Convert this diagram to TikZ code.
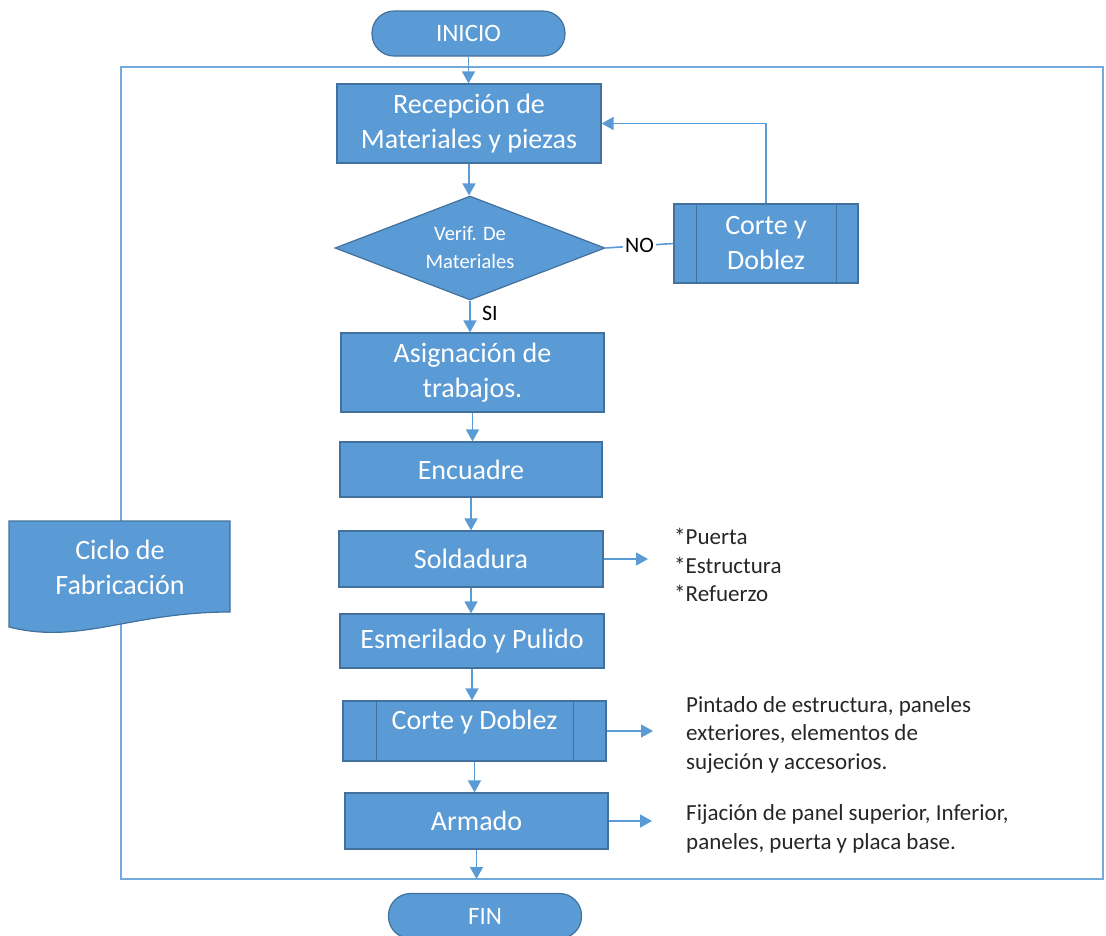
\documentclass[tikz,border=0pt]{standalone}
\usepackage{fontspec}
\setmainfont{Carlito}
\usetikzlibrary{arrows.meta,positioning,shapes.geometric,calc}
\definecolor{azul}{HTML}{5B9BD5}
\definecolor{borde}{HTML}{41719C}

\begin{document}
\begin{tikzpicture}[
    x=1pt, y=-1pt,
    proc/.style={draw=borde, line width=1.2pt, fill=azul, text=white, align=center, inner sep=0pt, font=\fontsize{28}{35}\selectfont},
    terminal/.style={proc, rounded corners=22pt, minimum width=193pt, minimum height=45pt, font=\fontsize{25}{30}\selectfont},
    decision/.style={diamond, draw=borde, line width=1.2pt, fill=azul, text=white, align=center, inner sep=0pt, aspect=2.6, font=\fontsize{20.5}{28}\selectfont},
    nota/.style={anchor=west, align=left, inner sep=0pt, text=black!85, font=\fontsize{23}{28.5}\selectfont},
    conector/.style={-{Triangle[length=12pt,width=13pt]}, line width=1.6pt, azul},
    marco/.style={draw=azul!85, line width=1.5pt}
  ]
    \clip (0,0) rectangle (1106,935);

    % Marco del ciclo
    \draw[marco] (121,67) rectangle (1103,879);
    \filldraw[fill=azul, draw=borde, line width=1.2pt] (9,521) -- (230,521) -- (230,612)
      .. controls (130,612) and (80,645) .. (9,627) -- cycle;
    \node[proc, draw=none, fill=none] (ciclo) at (120,567) {Ciclo de\\Fabricación};

    % Bloques principales
    \node[terminal] (inicio) at (468.5,33.5) {INICIO};
    \node[proc, minimum width=264pt, minimum height=79pt] (recep) at (469,123.5) {Recepción de\\Materiales y piezas};
    \node[decision, minimum width=270pt, minimum height=104pt] (verif) at (470,248) {Verif. De\\Materiales};
    \node[proc, minimum width=184pt, minimum height=79pt] (corte1) at (766,243.5) {Corte y\\Doblez};
    \draw[borde, line width=1.2pt] ([xshift=23pt]corte1.north west) -- ([xshift=23pt]corte1.south west);
    \draw[borde, line width=1.2pt] ([xshift=-22pt]corte1.north east) -- ([xshift=-22pt]corte1.south east);
    \node[proc, minimum width=263pt, minimum height=79pt] (asig) at (472.5,372.5) {Asignación de\\trabajos.};
    \node[proc, minimum width=262pt, minimum height=55pt] (encuadre) at (471,469.5) {Encuadre};
    \node[proc, minimum width=264pt, minimum height=56pt] (sold) at (471,559) {Soldadura};
    \node[proc, minimum width=264pt, minimum height=54pt] (esmer) at (472,641) {Esmerilado y Pulido};
    \node[proc, minimum width=263pt, minimum height=60pt] (corte2) at (474.5,731) {};
    \draw[borde, line width=1.2pt] ([xshift=34pt]corte2.north west) -- ([xshift=34pt]corte2.south west);
    \draw[borde, line width=1.2pt] ([xshift=-33pt]corte2.north east) -- ([xshift=-33pt]corte2.south east);
    \node[proc, draw=none, fill=none] (corte2txt) at ([yshift=9pt]corte2.center) {Corte y Doblez};
    \node[proc, minimum width=263pt, minimum height=56pt] (armado) at (476.5,821) {Armado};
    \node[terminal] (fin) at (485,916) {FIN};

    % Notas
    \node[nota] (notasold) at (674,565) {*Puerta\\*Estructura\\*Refuerzo};
    \node[nota] (notacorte) at (686,734.5) {Pintado de estructura, paneles\\exteriores, elementos de\\sujeción y accesorios.};
    \node[nota] (notaarm) at (686,829) {Fijación de panel superior, Inferior,\\paneles, puerta y placa base.};
    \coordinate (fsold) at (648,559);
    \coordinate (fcorte) at (653,731);
    \coordinate (farm) at (652,821);
    \coordinate (fmarco) at (476.5,879);

    % Conectores
    \draw[conector] (inicio.south) -- (inicio.south |- recep.north);
    \draw[conector] (recep.south) -- (recep.south |- verif.north);
    \draw[conector] (verif.south) -- node[right=8pt, pos=0.4, text=black, font=\fontsize{22}{24}\selectfont]{SI} (verif.south |- asig.north);
    \draw[line width=1.6pt, azul] (verif.east) -- node[fill=white, inner sep=2pt, text=black, font=\fontsize{22}{24}\selectfont]{NO} (corte1.west);
    \draw[conector] (corte1.north) |- (recep.east);
    \draw[conector] (asig.south) -- (asig.south |- encuadre.north);
    \draw[conector] (encuadre.south) -- (encuadre.south |- sold.north);
    \draw[conector] (sold.south) -- (sold.south |- esmer.north);
    \draw[conector] (esmer.south) -- (esmer.south |- corte2.north);
    \draw[conector] (corte2.south) -- (corte2.south |- armado.north);
    \draw[conector] (armado.south) -- (fmarco);
    \draw[conector] (sold.east) -- (fsold);
    \draw[conector] (corte2.east) -- (fcorte);
    \draw[conector] (armado.east) -- (farm);
  \end{tikzpicture}
\end{document}
